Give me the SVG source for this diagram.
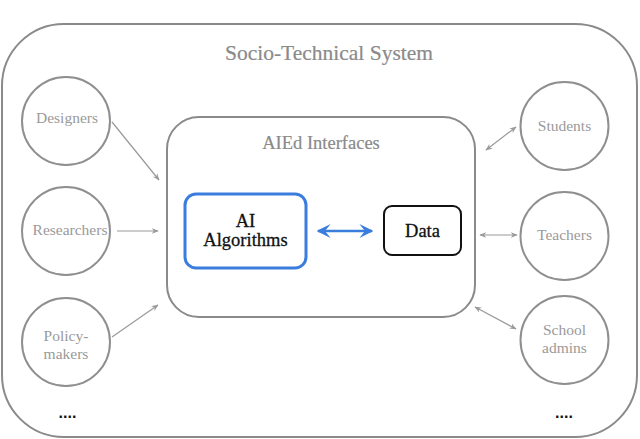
<svg xmlns="http://www.w3.org/2000/svg" width="640" height="439" viewBox="0 0 640 439">
<defs>
<style>
.frame{fill:none;stroke:#8a8a8a;stroke-width:2}
.circ{fill:#fff;stroke:#8f8f8f;stroke-width:2}
.lbl{font-family:"Liberation Serif","DejaVu Serif",serif;font-size:15.5px;fill:#9a9a9a;text-anchor:middle}
.title{font-family:"Liberation Serif","DejaVu Serif",serif;fill:#8a8a8a;text-anchor:middle}
.dark{font-family:"Liberation Serif","DejaVu Serif",serif;font-size:18.5px;fill:#111;stroke:#111;stroke-width:0.3;text-anchor:middle}
.conn{stroke:#9a9a9a;stroke-width:1.2;fill:none}
.dots{font-family:"Liberation Sans","DejaVu Sans",sans-serif;font-size:16px;font-weight:bold;fill:#111;text-anchor:middle}
</style>
<marker id="ah" viewBox="0 0 10 10" refX="9" refY="5" markerWidth="7" markerHeight="7" orient="auto-start-reverse" markerUnits="userSpaceOnUse">
<path d="M0,1 L10,5 L0,9 L3,5 z" fill="#9a9a9a"/>
</marker>
<marker id="bh" viewBox="0 0 10 10" refX="9" refY="5" markerWidth="14" markerHeight="14" orient="auto-start-reverse" markerUnits="userSpaceOnUse">
<path d="M0,0 L10,5 L0,10 L4,5 z" fill="#3b7ddd"/>
</marker>
</defs>
<rect width="640" height="439" fill="#fff"/>
<g id="socio-technical-system">
<rect class="frame" x="2" y="24" width="635" height="413" rx="62" ry="62"/>
<text class="title" x="329" y="60" font-size="21.5" stroke="#8a8a8a" stroke-width="0.2">Socio-Technical System</text>
</g>
<g id="aied-interfaces">
<rect class="frame" x="167" y="117" width="308" height="200" rx="32" ry="32"/>
<text class="title" x="321" y="149" font-size="18.5" stroke="#8a8a8a" stroke-width="0.2">AIEd Interfaces</text>
</g>
<g id="ai-algorithms">
<rect x="185" y="194" width="121" height="74" rx="11" ry="11" fill="#fff" stroke="#3b7ddd" stroke-width="3"/>
<text class="dark" x="245.5" y="227">AI</text>
<text class="dark" x="245.5" y="246">Algorithms</text>
</g>
<g id="data">
<rect x="384" y="206" width="77" height="49" rx="8" ry="8" fill="#fff" stroke="#111" stroke-width="2"/>
<text class="dark" x="422.5" y="237">Data</text>
</g>
<g id="designers"><circle class="circ" cx="66" cy="121" r="44"/><text class="lbl" x="67" y="123">Designers</text></g>
<g id="researchers"><circle class="circ" cx="66" cy="231" r="44"/><text class="lbl" x="70" y="235">Researchers</text></g>
<g id="policy-makers"><circle class="circ" cx="66" cy="342" r="44"/><text class="lbl" x="66" y="341">Policy-</text><text class="lbl" x="66" y="359">makers</text></g>
<g id="students"><circle class="circ" cx="564.5" cy="126" r="44"/><text class="lbl" x="564.5" y="131">Students</text></g>
<g id="teachers"><circle class="circ" cx="564.5" cy="236" r="44"/><text class="lbl" x="564.5" y="240">Teachers</text></g>
<g id="school-admins"><circle class="circ" cx="564.5" cy="340" r="44"/><text class="lbl" x="564.5" y="335">School</text><text class="lbl" x="564.5" y="353">admins</text></g>
<g id="more-left"><text class="dots" x="67.5" y="418">....</text></g>
<g id="more-right"><text class="dots" x="564" y="418">....</text></g>
<g id="connectors">
<line class="conn" x1="112" y1="122" x2="159" y2="180" marker-end="url(#ah)"/>
<line class="conn" x1="117" y1="231" x2="158" y2="231" marker-end="url(#ah)"/>
<line class="conn" x1="112" y1="337" x2="158" y2="305" marker-end="url(#ah)"/>
<line class="conn" x1="486" y1="150" x2="516" y2="127" marker-start="url(#ah)" marker-end="url(#ah)"/>
<line class="conn" x1="480" y1="235" x2="517" y2="235" marker-start="url(#ah)" marker-end="url(#ah)"/>
<line class="conn" x1="475" y1="307" x2="516" y2="329" marker-start="url(#ah)" marker-end="url(#ah)"/>
<line x1="318" y1="231" x2="372" y2="231" stroke="#3b7ddd" stroke-width="2.5" marker-start="url(#bh)" marker-end="url(#bh)"/>
</g>
</svg>
